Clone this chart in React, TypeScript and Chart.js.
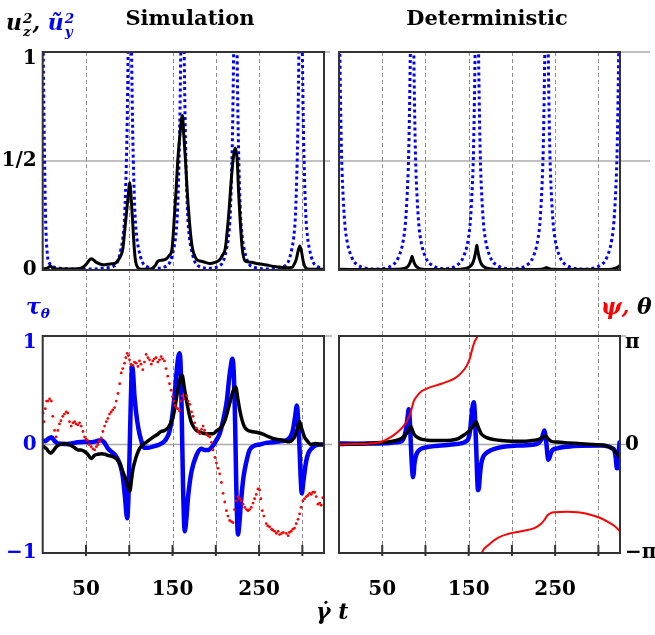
import React, { useEffect, useRef } from 'react';
import { Chart, registerables } from 'chart.js';

Chart.register(...registerables);

type P = [number, number];

// ---------- axes ----------
const xMin = 0;
const xMax = 325;
const xGridValues = [50, 100, 150, 200, 250, 300];
const xLabelValues = [50, 150, 250];
const topYTicks = [0, 0.5, 1];
const topYLabels = ['0', '1/2', '1'];
const tauTicks = [-1, 0, 1];
const tauLabels = ['−1', '0', '1'];
const angleTicks = [-1, 0, 1];
const angleLabels = ['−π', '0', 'π'];

// ---------- Simulation: u_z^2 (black) ----------
const simUz2: P[] = [
  [0, 0.005], [5, 0.008], [9, 0.017], [13, 0.006], [20, 0.005], [30, 0.005], [40, 0.006], [45, 0.01],
  [50, 0.025], [56, 0.052], [62, 0.035], [68, 0.025], [72, 0.024], [78, 0.028], [83, 0.03], [88, 0.05],
  [90.7, 0.07], [92.7, 0.1], [94.5, 0.17], [96.5, 0.25], [98.5, 0.33], [100.7, 0.4], [101.7, 0.36],
  [103.5, 0.25], [105.8, 0.1], [107.3, 0.04], [110, 0.01], [113, 0.003], [118, 0.003], [125, 0.005],
  [130, 0.02], [133, 0.04], [138, 0.045], [142.5, 0.05], [146, 0.065], [149.5, 0.1], [152.2, 0.25],
  [154, 0.36], [156, 0.5], [159, 0.64], [161.4, 0.71], [163, 0.62], [165, 0.5], [167, 0.36], [169, 0.25],
  [171, 0.16], [173, 0.1], [176, 0.06], [179, 0.045], [183, 0.04], [188, 0.035], [193, 0.03], [199, 0.035],
  [204.5, 0.047], [208, 0.07], [211, 0.1], [214.8, 0.25], [217.8, 0.41], [219.8, 0.5], [222.6, 0.56],
  [224.8, 0.5], [226.3, 0.36], [227.8, 0.25], [230.5, 0.1], [234, 0.04], [241, 0.035], [247, 0.03],
  [255, 0.025], [262, 0.02], [270, 0.015], [281, 0.01], [288, 0.012], [291, 0.03], [293, 0.05],
  [295, 0.085], [297, 0.11], [299, 0.085], [301, 0.04], [303, 0.015], [306, 0.005], [315, 0.004], [325, 0.004],
];

// ---------- Simulation: u~_y^2 (blue dotted) ----------
const simUy2: P[] = [
  [0, 1.3], [1, 0.85], [2, 0.55], [3, 0.3], [4, 0.15], [5, 0.09], [6, 0.05], [8, 0.03], [10, 0.02],
  [14, 0.012], [20, 0.008], [30, 0.005], [45, 0.004], [60, 0.005],
  [72, 0.01], [80.7, 0.015], [86.7, 0.04], [90.7, 0.1], [92.7, 0.15], [94.7, 0.25], [96.7, 0.5], [97.7, 0.7],
  [98.7, 1.0], [99.7, 1.35], [100.7, 1.6], [101.7, 1.35], [102.7, 1.0], [103.7, 0.7], [104.7, 0.5],
  [106.7, 0.25], [108.7, 0.15], [110.7, 0.1], [114.7, 0.04], [120.7, 0.015], [130, 0.008],
  [141.5, 0.015], [147.5, 0.04], [151.5, 0.1], [153.5, 0.15], [155.5, 0.25], [157.5, 0.5], [158.5, 0.7],
  [159.5, 1.0], [160.5, 1.35], [161.5, 1.6], [162.5, 1.35], [163.5, 1.0], [164.5, 0.7], [165.5, 0.5],
  [167.5, 0.25], [169.5, 0.15], [171.5, 0.1], [175.5, 0.04], [181.5, 0.015], [192, 0.008],
  [202.6, 0.015], [208.6, 0.04], [212.6, 0.1], [214.6, 0.15], [216.6, 0.25], [218.6, 0.5], [219.6, 0.7],
  [220.6, 1.0], [221.6, 1.35], [222.6, 1.6], [223.6, 1.35], [224.6, 1.0], [225.6, 0.7], [226.6, 0.5],
  [228.6, 0.25], [230.6, 0.15], [232.6, 0.1], [236.6, 0.04], [242.6, 0.015], [260, 0.005],
  [278, 0.015], [284, 0.04], [288, 0.1], [290, 0.15], [292, 0.25], [294, 0.5], [295, 0.7], [296, 1.0],
  [297, 1.35], [298, 1.6], [299, 1.35], [300, 1.0], [301, 0.7], [302, 0.5], [304, 0.25], [306, 0.15],
  [308, 0.1], [312, 0.04], [318, 0.015], [325, 0.01],
];

// ---------- Deterministic: u_z^2 (black) ----------
const detUz2: P[] = [
  [0, 0.003], [40, 0.002], [65, 0.003], [72, 0.005], [76.5, 0.008], [79.5, 0.016], [81.5, 0.028],
  [82.5, 0.038], [83.5, 0.05], [84.5, 0.063], [85.5, 0.05], [86.5, 0.038], [87.5, 0.028], [89.5, 0.016],
  [92.5, 0.008], [97, 0.004], [110, 0.002], [130, 0.002], [141, 0.004], [147.4, 0.008], [151.4, 0.015],
  [154.4, 0.03], [156.4, 0.052], [157.4, 0.07], [158.4, 0.09], [159.4, 0.113], [160.4, 0.09],
  [161.4, 0.07], [162.4, 0.052], [164.4, 0.03], [167.4, 0.015], [171.4, 0.008], [178, 0.004],
  [195, 0.002], [225, 0.002], [234, 0.004], [237, 0.006], [239, 0.01], [240, 0.012], [241, 0.01],
  [243, 0.006], [247, 0.003], [270, 0.002], [300, 0.002], [315, 0.004], [320, 0.008], [323, 0.014], [325, 0.022],
];

// ---------- Deterministic: u~_y^2 (blue dotted) ----------
const detUy2: P[] = [
  [0, 1.35], [1, 1.0], [2, 0.72], [3, 0.52], [5, 0.32], [7, 0.2], [9, 0.14], [11, 0.1], [14, 0.065],
  [17, 0.04], [21, 0.025], [27, 0.012], [34, 0.006], [42, 0.004], [50, 0.006], [57, 0.012], [62.5, 0.025],
  [66.5, 0.04], [69.5, 0.065], [72.5, 0.1], [74.5, 0.14], [76.5, 0.2], [78.5, 0.32], [80.5, 0.52],
  [81.5, 0.72], [82.5, 1.0], [83.5, 1.35], [84.5, 1.6], [85.5, 1.35], [86.5, 1.0], [87.5, 0.72],
  [88.5, 0.52], [90.5, 0.32], [92.5, 0.2], [94.5, 0.14], [96.5, 0.1], [99.5, 0.065], [102.5, 0.04],
  [106.5, 0.025], [112.5, 0.012], [119.5, 0.006], [122, 0.005], [124.4, 0.006], [131.4, 0.012],
  [137.4, 0.025], [141.4, 0.04], [144.4, 0.065], [147.4, 0.1], [149.4, 0.14], [151.4, 0.2], [153.4, 0.32],
  [155.4, 0.52], [156.4, 0.72], [157.4, 1.0], [158.4, 1.35], [159.4, 1.6], [160.4, 1.35], [161.4, 1.0],
  [162.4, 0.72], [163.4, 0.52], [165.4, 0.32], [167.4, 0.2], [169.4, 0.14], [171.4, 0.1], [174.4, 0.065],
  [177.4, 0.04], [181.4, 0.025], [187.4, 0.012], [194.4, 0.006], [200, 0.004], [205, 0.006], [212, 0.012],
  [218, 0.025], [222, 0.04], [225, 0.065], [228, 0.1], [230, 0.14], [232, 0.2], [234, 0.32], [236, 0.52],
  [237, 0.72], [238, 1.0], [239, 1.35], [240, 1.6], [241, 1.35], [242, 1.0], [243, 0.72], [244, 0.52],
  [246, 0.32], [248, 0.2], [250, 0.14], [252, 0.1], [255, 0.065], [258, 0.04], [262, 0.025], [268, 0.012],
  [275, 0.006], [283, 0.004], [290.5, 0.006], [297.5, 0.012], [303.5, 0.025], [307.5, 0.04], [310.5, 0.065],
  [313.5, 0.1], [315.5, 0.14], [317.5, 0.2], [319.5, 0.32], [321.5, 0.52], [322.5, 0.72], [323.5, 1.0],
  [324.5, 1.35], [325, 1.5],
];

// ---------- Simulation: tau_theta (blue) ----------
const simTau: P[] = [
  [0, 0.04], [3, 0.03], [6, 0.05], [10, 0.066], [14, 0.03], [17.5, 0.01], [25, 0.005], [33, 0.01],
  [40, 0.02], [48.4, 0.025], [55, 0.02], [62, 0.03], [67.6, 0.04], [71, 0.02], [75.3, -0.035], [80, -0.07],
  [84, -0.1], [87, -0.14], [90, -0.2], [92.6, -0.3], [95, -0.48], [97.6, -0.68], [99, -0.5], [100.3, -0.1],
  [101.5, 0.3], [102.5, 0.6], [103.3, 0.72], [104.5, 0.65], [106, 0.45], [108, 0.29], [110.5, 0.15],
  [113.7, 0.04], [117.5, -0.03], [122, -0.03], [129, -0.015], [135, 0.0], [140.7, 0.03], [144, 0.07],
  [146.5, 0.12], [149.5, 0.25], [152.2, 0.44], [154.5, 0.65], [156.5, 0.8], [158, 0.84], [159.5, 0.7],
  [160.8, 0.2], [162.2, -0.4], [164.1, -0.8], [166, -0.68], [168, -0.48], [171.9, -0.25], [177.6, -0.1],
  [183.4, -0.04], [187, -0.05], [191, -0.05], [196.8, -0.01], [200.7, 0.04], [204.5, 0.1], [210.3, 0.29],
  [213, 0.42], [215.3, 0.6], [217.3, 0.72], [219.1, 0.79], [220.8, 0.65], [222.3, 0.2], [223.7, -0.4],
  [225.6, -0.83], [227.5, -0.7], [229.4, -0.5], [232, -0.3], [235, -0.17], [239.1, -0.05], [245, -0.01],
  [250.6, 0.0], [258, 0.015], [266, 0.02], [274, 0.03], [281.4, 0.04], [286, 0.07], [289, 0.13],
  [291.5, 0.25], [293.7, 0.36], [295.3, 0.2], [296.8, -0.05], [298, -0.3], [299.4, -0.45], [301, -0.35],
  [304.5, -0.15], [307, -0.08], [310.3, -0.04], [315, -0.01], [320, 0.0], [325, 0.0],
];

// ---------- Simulation: black curve ----------
const simTheta: P[] = [
  [0, -0.01], [4.3, -0.04], [9.2, -0.08], [12, -0.06], [15.8, -0.02], [20, 0.0], [25.4, 0.01], [29, 0.0],
  [33, -0.01], [37, -0.03], [40.7, -0.05], [44, -0.05], [48.4, -0.065], [52, -0.09], [56, -0.13],
  [60, -0.1], [63.8, -0.09], [68, -0.085], [72, -0.09], [75.3, -0.1], [80, -0.11], [85, -0.13],
  [88, -0.16], [90.7, -0.21], [93.5, -0.27], [96.5, -0.33], [98.5, -0.39], [100.7, -0.43], [102.5, -0.33],
  [104, -0.24], [106, -0.17], [109, -0.09], [111.8, -0.04], [114.5, -0.01], [117.6, 0.01], [122, 0.035],
  [127.2, 0.066], [132, 0.09], [136.8, 0.12], [141, 0.13], [144.5, 0.15], [147.5, 0.19], [150.2, 0.24],
  [153, 0.35], [156, 0.5], [158.5, 0.6], [161, 0.64], [163.5, 0.53], [166, 0.41], [169, 0.29],
  [171.9, 0.2], [174.5, 0.16], [177.6, 0.13], [183, 0.11], [189.2, 0.1], [196.8, 0.1], [201.5, 0.13],
  [206.5, 0.16], [210.5, 0.22], [214.1, 0.32], [217, 0.41], [219.8, 0.49], [223, 0.53], [225.5, 0.42],
  [227.6, 0.32], [230.5, 0.22], [233.3, 0.16], [237, 0.13], [241, 0.12], [248, 0.11], [254.5, 0.095],
  [260, 0.075], [266, 0.055], [272, 0.045], [277.5, 0.04], [281, 0.03], [285, 0.025], [288, 0.04],
  [291, 0.07], [294, 0.14], [296.8, 0.21], [299.5, 0.14], [302.5, 0.07], [306, 0.03], [310.3, 0.0],
  [315, 0.01], [320, 0.0], [325, 0.0],
];

// ---------- Simulation: red dotted ----------
const simPsi: P[] = [
  [0, 0.02], [0.5, 0.29], [1.5, 0.21], [3, 0.33], [4.5, 0.4], [6.1, 0.4], [8, 0.42], [10, 0.4], [11.7, 0.26],
  [13.7, 0.13], [15.5, 0.07], [17.5, 0.13], [19.4, 0.19], [21, 0.22], [23.2, 0.26], [25, 0.28], [27.2, 0.3],
  [29, 0.29], [31, 0.21], [33, 0.17], [35, 0.2], [36.8, 0.21], [38.5, 0.19], [40.7, 0.18], [42.5, 0.2],
  [44.5, 0.17], [46.5, 0.12], [48.4, 0.07], [50, 0.05], [51.5, 0.04], [53.5, 0.0], [56, -0.02], [58, -0.04],
  [60, -0.05], [62, -0.02], [63.8, 0.0], [65.5, 0.03], [67.6, 0.06], [69.5, 0.12], [71.5, 0.17],
  [73.5, 0.21], [75.3, 0.24], [77.2, 0.28], [79.2, 0.3], [81, 0.32], [83, 0.34], [85, 0.4], [87, 0.47],
  [89, 0.56], [90.7, 0.66], [92.5, 0.7], [94.6, 0.75], [96, 0.8], [97.6, 0.84], [99, 0.82], [100.3, 0.78],
  [102, 0.74], [104.2, 0.73], [106, 0.76], [108, 0.75], [110, 0.72], [111.8, 0.77], [113.5, 0.74],
  [115.7, 0.69], [117.5, 0.76], [119.5, 0.83], [121.5, 0.8], [123.4, 0.78], [125.5, 0.74], [127.2, 0.77],
  [129, 0.79], [131, 0.8], [133, 0.76], [135, 0.78], [136.8, 0.81], [138.5, 0.79], [140.7, 0.77],
  [142.5, 0.7], [144.5, 0.63], [146.5, 0.56], [148.4, 0.5], [150, 0.44], [151.5, 0.4], [153, 0.36],
  [154.2, 0.34], [156, 0.33], [158, 0.31], [159.5, 0.4], [161, 0.45], [163, 0.42], [166, 0.45], [168, 0.4],
  [170, 0.37], [172, 0.3], [173.7, 0.26], [175.5, 0.2], [177.6, 0.15], [179.5, 0.12], [181.4, 0.1],
  [183.5, 0.14], [185.3, 0.17], [187, 0.13], [189.2, 0.1], [191, 0.08], [193, 0.07], [195, 0.02],
  [196.8, -0.05], [199, -0.12], [200.7, -0.17], [202.5, -0.22], [204.5, -0.27], [206.5, -0.35],
  [208.4, -0.45], [210.3, -0.53], [212.2, -0.61], [214, -0.66], [216, -0.7], [218, -0.71], [219.9, -0.72],
  [221.5, -0.6], [223.7, -0.52], [225.5, -0.48], [227.6, -0.5], [229.5, -0.52], [231.4, -0.55],
  [233.5, -0.58], [235.5, -0.6], [237.2, -0.61], [239, -0.6], [241, -0.58], [243, -0.54], [244.8, -0.5],
  [246.7, -0.46], [248.7, -0.41], [250.6, -0.42], [252, -0.5], [253.7, -0.61], [255.5, -0.66],
  [258.3, -0.73], [260, -0.75], [262.2, -0.76], [264.5, -0.78], [266, -0.79], [268, -0.8], [270, -0.82],
  [272, -0.8], [273.7, -0.83], [276, -0.82], [278, -0.81], [281.4, -0.82], [283.5, -0.84], [285, -0.81],
  [287.1, -0.8], [289, -0.78], [291, -0.77], [292.9, -0.73], [295, -0.69], [296.8, -0.64], [298.5, -0.58],
  [300.6, -0.52], [302.5, -0.5], [304.5, -0.48], [306.5, -0.47], [308.5, -0.45], [310.3, -0.46],
  [312, -0.44], [314.1, -0.44], [316, -0.48], [318, -0.55], [320, -0.54], [321.8, -0.56], [323.7, -0.49],
  [325, -0.5],
];

// ---------- Deterministic: tau_theta (blue), in the plotted scale ----------
const detTau: P[] = [
  [0, 0.01], [20, 0.008], [40, 0.01], [55, 0.012], [65, 0.02], [70, 0.025], [73.1, 0.035], [75.5, 0.07],
  [77.2, 0.13], [78.5, 0.2], [79.5, 0.26], [80.7, 0.325], [81.7, 0.25], [82.8, 0.06], [83.8, -0.12],
  [84.7, -0.24], [85.7, -0.3], [86.5, -0.26], [87.2, -0.18], [88.5, -0.12], [91.1, -0.066], [95, -0.04],
  [98.8, -0.03], [110, -0.015], [118, -0.01], [130, 0.0], [141, 0.01], [146, 0.025], [149.4, 0.05],
  [151.5, 0.12], [153.2, 0.26], [154.7, 0.36], [156, 0.39], [157, 0.3], [158, 0.1], [158.8, -0.05],
  [159.8, -0.3], [160.8, -0.42], [161.8, -0.4], [163, -0.28], [164.4, -0.18], [167, -0.11], [170.2, -0.08],
  [175, -0.055], [179.8, -0.04], [190, -0.02], [206.7, -0.01], [226, 0.0], [231, 0.015], [233.8, 0.04],
  [235.8, 0.09], [237.6, 0.13], [238.8, 0.08], [240, 0.0], [241, -0.09], [242.2, -0.14], [243.5, -0.12],
  [245, -0.08], [247.2, -0.05], [252, -0.035], [264.5, -0.02], [280, -0.012], [303, -0.01], [312, -0.02],
  [316, -0.035], [318.3, -0.05], [320, -0.12], [321.4, -0.22], [322.5, -0.2], [323.5, -0.08],
  [324.5, 0.02], [325, 0.03],
];

// ---------- Deterministic: theta (black), in units of pi ----------
const detTheta: P[] = [
  [0, 0.0], [30, 0.008], [52.6, 0.02], [65, 0.035], [73, 0.06], [78, 0.1], [80.5, 0.13], [83, 0.165],
  [85, 0.13], [87.2, 0.09], [91, 0.065], [95, 0.05], [102, 0.04], [110, 0.037], [120, 0.037],
  [129.6, 0.04], [138, 0.055], [145, 0.09], [150, 0.12], [153, 0.15], [156, 0.18], [158.6, 0.21],
  [161, 0.16], [164.4, 0.1], [168, 0.075], [172, 0.06], [180, 0.045], [187.4, 0.036], [200, 0.03],
  [210.5, 0.03], [222, 0.035], [229.8, 0.045], [234, 0.06], [236.5, 0.07], [238.8, 0.078], [241, 0.06],
  [245.3, 0.03], [252, 0.022], [264.5, 0.015], [280, 0.008], [294.5, 0.0], [303, -0.005], [309.9, -0.015],
  [315, -0.03], [319.5, -0.066], [322, -0.09], [325, -0.12],
];

// ---------- Deterministic: psi (red), in units of pi, two branches ----------
const detPsiUpper: P[] = [
  [0, 0.0], [20, 0.005], [33.8, 0.008], [49.2, 0.026], [60.8, 0.072], [70.4, 0.134], [74.5, 0.17],
  [78, 0.21], [81, 0.26], [83, 0.3], [85, 0.36], [86.5, 0.4], [89.6, 0.44], [95.4, 0.49], [103, 0.52],
  [118.5, 0.56], [133.8, 0.61], [141.5, 0.66], [147.3, 0.72], [151.2, 0.79], [153.8, 0.87], [156.9, 0.95],
  [160, 1.0], [161, 1.05],
];
const detPsiLower: P[] = [
  [164.5, -1.03], [165.7, -0.99], [172.2, -0.93], [183.7, -0.86], [195.2, -0.825], [210.7, -0.8],
  [226, -0.77], [233.8, -0.73], [238, -0.69], [241.5, -0.65], [245, -0.632], [249.1, -0.625],
  [264.5, -0.62], [276, -0.625], [287.6, -0.64], [303, -0.68], [314.5, -0.73], [320, -0.76], [325, -0.8],
];

// ---------- styling ----------
const BLUE = '#0000ff';
const RED = '#ff0000';
const BLACK = '#000000';
const SERIF = "'DejaVu Serif', 'Liberation Serif', serif";
const tickFont = { family: SERIF, size: 20, weight: 'bold' as const };

const toXY = (pts: P[]) => pts.map(([x, y]) => ({ x, y }));

function lineDs(pts: P[], color: string, width: number, extra: Record<string, unknown> = {}) {
  return {
    data: toXY(pts),
    borderColor: color,
    backgroundColor: color,
    borderWidth: width,
    pointRadius: 0,
    fill: false,
    cubicInterpolationMode: 'monotone' as const,
    ...extra,
  };
}

const framePlugin = {
  id: 'frame',
  beforeDatasetsDraw(chart: any, _args: any, opts: any) {
    const { ctx, chartArea: a } = chart;
    const xs = chart.scales.x;
    const ys = chart.scales.y;
    ctx.save();
    ctx.strokeStyle = '#ababab';
    ctx.lineWidth = 1.5;
    for (const v of opts.hLines as number[]) {
      const y = ys.getPixelForValue(v);
      ctx.beginPath();
      ctx.moveTo(a.left, y);
      ctx.lineTo(a.right + opts.hExt, y);
      ctx.stroke();
    }
    ctx.strokeStyle = '#8f8f8f';
    ctx.lineWidth = 1;
    ctx.setLineDash([4, 3]);
    for (const v of xGridValues) {
      const x = Math.round(xs.getPixelForValue(v)) + 0.5;
      ctx.beginPath();
      ctx.moveTo(x, opts.vTop === 'canvas' ? 0 : a.top);
      ctx.lineTo(x, opts.vBottom === 'canvas' ? chart.height : a.bottom);
      ctx.stroke();
    }
    ctx.restore();
  },
  afterDatasetsDraw(chart: any, _args: any, opts: any) {
    const { ctx, chartArea: a } = chart;
    const xs = chart.scales.x;
    ctx.save();
    ctx.strokeStyle = '#333333';
    ctx.lineWidth = 2;
    ctx.strokeRect(a.left, a.top, a.right - a.left, a.bottom - a.top);
    if (opts.inwardTicks) {
      for (const v of xGridValues) {
        const x = xs.getPixelForValue(v);
        ctx.beginPath();
        ctx.moveTo(x, a.bottom - 8);
        ctx.lineTo(x, a.bottom + 3);
        ctx.stroke();
      }
    }
    ctx.restore();
  },
};

function xScale(showLabels: boolean) {
  return {
    type: 'linear' as const,
    min: xMin,
    max: xMax,
    display: showLabels,
    afterFit: (s: any) => {
      s.height = showLabels ? 50 : 0;
    },
    grid: {
      display: true,
      drawOnChartArea: false,
      drawTicks: true,
      tickLength: 25,
      tickColor: 'rgba(0,0,0,0)',
      color: 'rgba(0,0,0,0)',
    },
    border: { display: false },
    ticks: {
      stepSize: 50,
      autoSkip: false,
      maxRotation: 0,
      padding: 0,
      color: BLACK,
      font: tickFont,
      callback: (v: any) => (xLabelValues.includes(Number(v)) ? String(v) : ''),
    },
  };
}

function yScale(
  min: number,
  max: number,
  tickVals: number[] | null,
  tickLabels: string[],
  color: string,
  position: 'left' | 'right',
  width: number
) {
  return {
    type: 'linear' as const,
    min,
    max,
    position,
    display: tickVals !== null,
    afterFit: (s: any) => {
      s.width = width;
    },
    afterBuildTicks: (s: any) => {
      if (tickVals) s.ticks = tickVals.map((value) => ({ value }));
    },
    grid: { display: false, drawTicks: false },
    border: { display: false },
    ticks: {
      padding: position === 'left' ? 6 : 5,
      color,
      font: { ...tickFont, lineHeight: 0.7 },
      callback: (v: any) => {
        const vals = tickVals || [];
        const i = vals.indexOf(Number(v));
        if (i < 0) return '';
        // the top label sits a little below its tick, as in the original figure
        return Number(v) === max ? ['', tickLabels[i]] : tickLabels[i];
      },
    },
  };
}

function baseOptions(padding: any, scales: any, frame: any) {
  return {
    responsive: false,
    animation: false as const,
    events: [] as any[],
    layout: { padding },
    plugins: { legend: { display: false }, tooltip: { enabled: false }, title: { display: false }, frame },
    scales,
  };
}

const sup = (a: string, b: string, color: string) => (
  <span
    style={{
      display: 'inline-block',
      fontSize: '0.62em',
      lineHeight: '0.95em',
      verticalAlign: '-0.42em',
      color,
      marginLeft: '1px',
    }}
  >
    {a}
    <br />
    {b}
  </span>
);

export default function App() {
  const tl = useRef<HTMLCanvasElement>(null);
  const tr = useRef<HTMLCanvasElement>(null);
  const bl = useRef<HTMLCanvasElement>(null);
  const br = useRef<HTMLCanvasElement>(null);

  useEffect(() => {
    const charts: Chart[] = [];

    charts.push(
      new Chart(tl.current!, {
        type: 'line',
        data: {
          datasets: [
            lineDs(simUz2, BLACK, 3),
            lineDs(simUy2, BLUE, 3, { borderDash: [3, 3] }),
          ] as any,
        },
        options: baseOptions(
          { left: 0, right: 8, top: 52, bottom: 33 },
          { x: xScale(false), y: yScale(0, 1, topYTicks, topYLabels, BLACK, 'left', 42.7) },
          { hLines: [0.5, 1], hExt: 6, vTop: 'area', vBottom: 'canvas', inwardTicks: false }
        ) as any,
        plugins: [framePlugin],
      })
    );

    charts.push(
      new Chart(tr.current!, {
        type: 'line',
        data: {
          datasets: [
            lineDs(detUz2, BLACK, 3),
            lineDs(detUy2, BLUE, 3, { borderDash: [3, 3] }),
          ] as any,
        },
        options: baseOptions(
          { left: 7, right: 35, top: 52, bottom: 33 },
          { x: xScale(false), y: yScale(0, 1, null, [], BLACK, 'left', 0) },
          { hLines: [0.5, 1], hExt: 30, vTop: 'area', vBottom: 'canvas', inwardTicks: false }
        ) as any,
        plugins: [framePlugin],
      })
    );

    charts.push(
      new Chart(bl.current!, {
        type: 'line',
        data: {
          datasets: [
            {
              data: toXY(simPsi),
              showLine: false,
              pointRadius: 1.4,
              pointBorderWidth: 0,
              pointBackgroundColor: RED,
              borderColor: RED,
            },
            lineDs(simTheta, BLACK, 3.5),
            lineDs(simTau, BLUE, 4.5),
          ] as any,
        },
        options: baseOptions(
          { left: 0, right: 8, top: 33, bottom: 32 },
          { x: xScale(true), y: yScale(-1, 1, tauTicks, tauLabels, BLUE, 'left', 42.7) },
          { hLines: [0, 1], hExt: 14, vTop: 'canvas', vBottom: 'area', inwardTicks: true }
        ) as any,
        plugins: [framePlugin],
      })
    );

    charts.push(
      new Chart(br.current!, {
        type: 'line',
        data: {
          datasets: [
            lineDs(detPsiUpper, RED, 2),
            lineDs(detPsiLower, RED, 2),
            lineDs(detTheta, BLACK, 3.5),
            lineDs(detTau, BLUE, 4.5),
          ] as any,
        },
        options: baseOptions(
          { left: 7, right: 0, top: 33, bottom: 32 },
          { x: xScale(true), y: yScale(-1, 1, angleTicks, angleLabels, BLACK, 'right', 35) },
          { hLines: [0, 1], hExt: 6, vTop: 'canvas', vBottom: 'area', inwardTicks: true }
        ) as any,
        plugins: [framePlugin],
      })
    );

    return () => charts.forEach((c) => c.destroy());
  }, []);

  const label: React.CSSProperties = {
    position: 'absolute',
    fontFamily: SERIF,
    fontWeight: 'bold',
    lineHeight: 1,
    whiteSpace: 'nowrap',
  };

  return (
    <div style={{ position: 'absolute', left: 0, top: 0, width: 655, height: 635, background: '#fff', overflow: 'hidden' }}>
      <canvas ref={tl} width={332} height={303} style={{ position: 'absolute', left: 0, top: 0, width: 332, height: 303 }} />
      <canvas ref={tr} width={323} height={303} style={{ position: 'absolute', left: 332, top: 0, width: 323, height: 303 }} />
      <canvas ref={bl} width={332} height={332} style={{ position: 'absolute', left: 0, top: 303, width: 332, height: 332 }} />
      <canvas ref={br} width={323} height={332} style={{ position: 'absolute', left: 332, top: 303, width: 323, height: 332 }} />

      <div style={{ ...label, fontSize: 21, left: 190, top: 7, transform: 'translateX(-50%)' }}>Simulation</div>
      <div style={{ ...label, fontSize: 21, left: 487, top: 7, transform: 'translateX(-50%)' }}>Deterministic</div>

      <div style={{ ...label, fontSize: 22, fontStyle: 'italic', left: 6, top: 11 }}>
        <span>u</span>
        {sup('2', 'z', BLACK)}
        <span>, </span>
        <span style={{ color: BLUE }}>ũ</span>
        {sup('2', 'y', BLUE)}
      </div>

      <div style={{ ...label, fontSize: 22, fontStyle: 'italic', left: 26, top: 295, color: BLUE }}>
        τ<span style={{ fontSize: '0.62em', verticalAlign: '-0.3em' }}>θ</span>
      </div>

      <div style={{ ...label, fontSize: 22, fontStyle: 'italic', left: 601, top: 295 }}>
        <span style={{ color: RED }}>ψ, </span>
        <span style={{ color: BLACK }}>θ</span>
      </div>

      <div style={{ ...label, fontSize: 22, fontStyle: 'italic', left: 316, top: 600 }}>γ̇ t</div>
    </div>
  );
}
